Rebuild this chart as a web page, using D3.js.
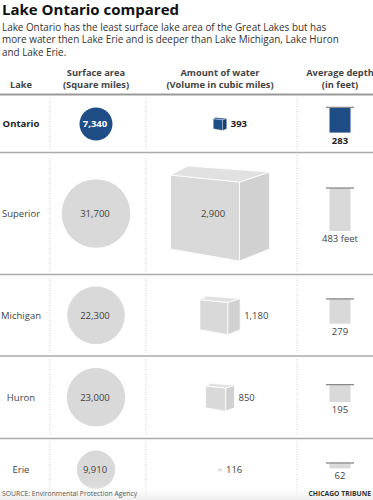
<!DOCTYPE html>
<html>
<head>
<meta charset="utf-8">
<script src="https://cdn.jsdelivr.net/npm/d3@7"></script>
<style>
  body { margin: 0; background: #fff; }
  svg { display: block; font-family: "Open Sans", sans-serif; }
</style>
</head>
<body>
<script>
// lake data
var lakes      = ["Ontario", "Superior", "Michigan", "Huron", "Erie"];
var areas      = [7340, 31700, 22300, 23000, 9910];
var volumes    = [393, 2900, 1180, 850, 116];
var depths     = [283, 483, 279, 195, 62];
var depthNotes = ["283", "483 feet", "279", "195", "62"];
var headers    = [["Lake"], ["Surface area", "(Square miles)"], ["Amount of water", "(Volume in cubic miles)"], ["Average depth", "(in feet)"]];

var width  = 373;
var height = 500;
var blue   = "#1f4e87";
var grey   = "#d9d9d9";

var svg = d3.select("body").append("svg")
  .attr("width", width)
  .attr("height", height);

// title + intro
svg.append("text")
  .attr("x", 2).attr("y", 15)
  .style("font-size", "15px").style("font-weight", 700).style("fill", "#111")
  .text("Lake Ontario compared");

var intro = ["Lake Ontario has the least surface lake area of the Great Lakes but has",
             "more water then Lake Erie and is deeper than Lake Michigan, Lake Huron",
             "and Lake Erie."];
svg.selectAll(".intro").data(intro).enter().append("text")
  .attr("x", 2).attr("y", function(d, i) { return 30.5 + i * 12.5; })
  .style("font-size", "9.9px").style("fill", "#333")
  .text(function(d) { return d; });

// column centers
var colX = [21, 96, 220, 340];
var sepX = [50, 146, 297];

// header
headers.forEach(function(h, c) {
  h.forEach(function(line, j) {
    svg.append("text")
      .attr("x", colX[c])
      .attr("y", h.length == 1 ? 88 : 76 + j * 12)
      .attr("text-anchor", "middle")
      .style("font-size", "9.3px").style("font-weight", 700).style("fill", "#444")
      .text(line);
  });
});

svg.append("line")
  .attr("x1", 0).attr("x2", width).attr("y1", 94.5).attr("y2", 94.5)
  .style("stroke", "#999").style("stroke-width", 2);

// scales
var rScale     = d3.scaleSqrt().domain([0, d3.max(areas)]).range([0, 34.3]);
var cubeScale  = d3.scaleLinear().domain([0, d3.max(volumes)]).range([0, 99]);
var depthScale = d3.scaleLinear().domain([0, d3.max(depths)]).range([0, 43]);

// row layout, rows grow with their biggest shape
var rows = [];
var y0 = 95.5;
lakes.forEach(function(name, i) {
  var r = rScale(areas[i]);
  var w = cubeScale(volumes[i]);
  var h = Math.max(2 * r + 24, w * 0.96 + 27);
  rows.push({ i: i, name: name, top: y0, h: h, cy: y0 + h / 2, r: r, w: w });
  y0 += h;
});

// cube outline in units of its full width (slightly perspective)
var frontFace = [[-0.5, -0.389], [0.197, -0.318], [0.197, 0.48], [-0.5, 0.359]];
var sideFace  = [[0.197, -0.318], [0.5, -0.419], [0.5, 0.359], [0.197, 0.48]];
var topFace   = [[-0.5, -0.389], [-0.328, -0.48], [0.5, -0.419], [0.197, -0.318]];

var g = svg.selectAll(".row").data(rows).enter().append("g").attr("class", "row");

// dotted separators
sepX.forEach(function(x) {
  g.append("line")
    .attr("x1", x).attr("x2", x)
    .attr("y1", function(d) { return d.top + 3; })
    .attr("y2", function(d) { return d.top + d.h - 3; })
    .style("stroke", "#cfcfcf").style("stroke-width", 1).style("stroke-dasharray", "1,1.5");
});

// row rule
g.filter(function(d) { return d.i < lakes.length - 1; })
  .append("line")
  .attr("x1", 0).attr("x2", width)
  .attr("y1", function(d) { return d.top + d.h; })
  .attr("y2", function(d) { return d.top + d.h; })
  .style("stroke", "#aaa").style("stroke-width", 1.5);

// lake name
g.append("text")
  .attr("x", colX[0]).attr("y", function(d) { return d.cy; })
  .attr("dy", "0.35em").attr("text-anchor", "middle")
  .style("font-size", "9.5px")
  .style("font-weight", function(d) { return d.i == 0 ? 700 : 400; })
  .style("fill", function(d) { return d.i == 0 ? "#222" : "#444"; })
  .text(function(d) { return d.name; });

// surface area circles
g.append("circle")
  .attr("cx", colX[1]).attr("cy", function(d) { return d.cy; })
  .attr("r", function(d) { return d.r; })
  .style("fill", function(d) { return d.i == 0 ? blue : grey; });

g.append("text")
  .attr("x", colX[1] - 1).attr("y", function(d) { return d.cy; })
  .attr("dy", "0.35em").attr("text-anchor", "middle")
  .style("font-size", "9.5px")
  .style("font-weight", function(d) { return d.i == 0 ? 700 : 400; })
  .style("fill", function(d) { return d.i == 0 ? "#fff" : "#444"; })
  .text(function(d) { return d3.format(",")(areas[d.i]); });

// water volume cubes
function face(pts, d) {
  return pts.map(function(p) { return (colX[2] + p[0] * d.w) + "," + (d.cy + p[1] * d.w); }).join(" ");
}
var faces = [[frontFace, "#d9d9d9", "#1f4e87"], [sideFace, "#d1d1d1", "#193f6e"], [topFace, "#e1e1e1", "#2c5e98"]];
faces.forEach(function(f) {
  g.append("polygon")
    .attr("points", function(d) { return face(f[0], d); })
    .style("fill", function(d) { return d.i == 0 ? f[2] : f[1]; })
    .style("stroke", "#fff")
    .style("stroke-width", function(d) { return d.w > 20 ? 0.8 : 0.3; });
});

g.append("text")
  .attr("x", function(d) { return d.w > 80 ? colX[2] - 7 : colX[2] + d.w / 2 + 4; })
  .attr("y", function(d) { return d.cy; })
  .attr("dy", "0.35em")
  .attr("text-anchor", function(d) { return d.w > 80 ? "middle" : "start"; })
  .style("font-size", "9.5px")
  .style("font-weight", function(d) { return d.i == 0 ? 700 : 400; })
  .style("fill", function(d) { return d.i == 0 ? "#222" : "#444"; })
  .text(function(d) { return d3.format(",")(volumes[d.i]); });

// average depth bars
g.append("rect")
  .attr("x", colX[3] - 10.5)
  .attr("y", function(d) { return d.cy - depthScale(depths[d.i]) / 2 - 4; })
  .attr("width", 21)
  .attr("height", function(d) { return depthScale(depths[d.i]); })
  .style("fill", function(d) { return d.i == 0 ? blue : grey; });

g.append("line")
  .attr("x1", colX[3] - 14).attr("x2", colX[3] + 14)
  .attr("y1", function(d) { return d.cy - depthScale(depths[d.i]) / 2 - 4; })
  .attr("y2", function(d) { return d.cy - depthScale(depths[d.i]) / 2 - 4; })
  .style("stroke", "#888").style("stroke-width", 1.3);

g.append("text")
  .attr("x", colX[3])
  .attr("y", function(d) { return d.cy + depthScale(depths[d.i]) / 2 - 4 + 11; })
  .attr("text-anchor", "middle")
  .style("font-size", "9.5px")
  .style("font-weight", function(d) { return d.i == 0 ? 700 : 400; })
  .style("fill", function(d) { return d.i == 0 ? "#222" : "#444"; })
  .text(function(d) { return depthNotes[d.i]; });

// footer
var grad = svg.append("defs").append("linearGradient")
  .attr("id", "fade").attr("x1", 0).attr("x2", 0).attr("y1", 0).attr("y2", 1);
grad.append("stop").attr("offset", "0%").style("stop-color", "#fff").style("stop-opacity", 0);
grad.append("stop").attr("offset", "100%").style("stop-color", "#eee").style("stop-opacity", 1);

svg.append("rect")
  .attr("x", 0).attr("y", 484).attr("width", width).attr("height", 16)
  .style("fill", "url(#fade)");

svg.append("text")
  .attr("x", 2).attr("y", 496)
  .style("font-size", "6.8px").style("fill", "#555")
  .text("SOURCE: Environmental Protection Agency");

svg.append("text")
  .attr("x", 371).attr("y", 496).attr("text-anchor", "end")
  .style("font-size", "6.8px").style("font-weight", 700).style("fill", "#333")
  .text("CHICAGO TRIBUNE");
</script>
</body>
</html>
